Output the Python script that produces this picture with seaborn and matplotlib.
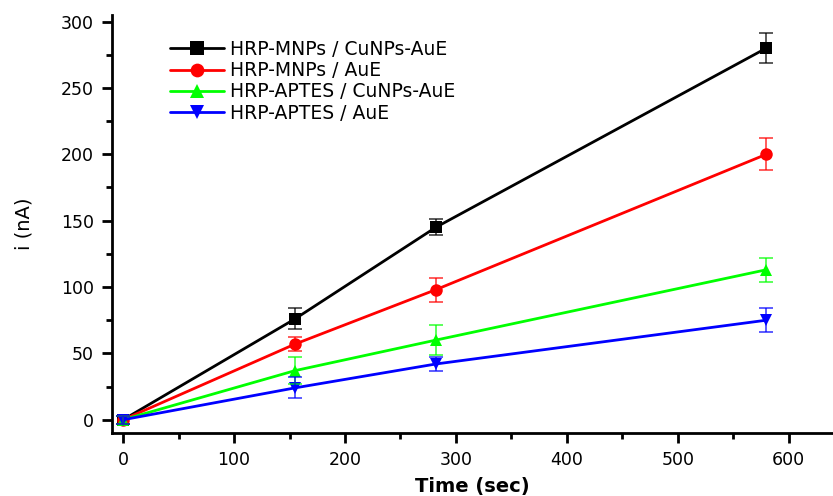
import numpy as np
import pandas as pd
import matplotlib
matplotlib.use("Agg")
import matplotlib.pyplot as plt
from matplotlib.ticker import MultipleLocator
import seaborn as sns

# datos
time_sec = [0, 155, 282, 580]
labels = ["HRP-MNPs / CuNPs-AuE", "HRP-MNPs / AuE",
          "HRP-APTES / CuNPs-AuE", "HRP-APTES / AuE"]
i_mnps_cu = [0, 76, 145, 280]
i_mnps_au = [0, 57, 98, 200]
i_aptes_cu = [0, 37, 60, 113]
i_aptes_au = [0, 24, 42, 75]
err_mnps_cu = [3, 8, 6, 11]
err_mnps_au = [3, 5, 9, 12]
err_aptes_cu = [3, 10, 11, 9]
err_aptes_au = [3, 8, 5, 9]

series = [i_mnps_cu, i_mnps_au, i_aptes_cu, i_aptes_au]
errors = [err_mnps_cu, err_mnps_au, err_aptes_cu, err_aptes_au]
colors = ["black", "red", "#00ff00", "blue"]
markers = ["s", "o", "^", "v"]

df = pd.DataFrame({
    "t": time_sec * 4,
    "i": sum(series, []),
    "serie": [l for l in labels for _ in time_sec],
})

sns.set_style("ticks", {"axes.edgecolor": "black", "text.color": "black",
                        "xtick.color": "black", "ytick.color": "black",
                        "axes.labelcolor": "black"})
plt.rcParams["font.family"] = ["DejaVu Sans"]

fig = plt.figure(figsize=(8.33, 4.96), dpi=100)
ax = fig.add_axes([0.1345, 0.127, 0.8655, 0.843])

sns.lineplot(data=df, x="t", y="i", hue="serie", style="serie",
             palette=dict(zip(labels, colors)),
             markers=dict(zip(labels, markers)), dashes=False,
             markersize=9, linewidth=2, markeredgewidth=0, ax=ax)

for y, e, c in zip(series, errors, colors):
    ax.errorbar(time_sec, y, yerr=e, fmt="none", ecolor=c, elinewidth=1.2,
                capsize=5, capthick=1.2, alpha=0.75)

ax.set_xlim(-10, 640)
ax.set_ylim(-10, 305)
ax.xaxis.set_major_locator(MultipleLocator(100))
ax.xaxis.set_minor_locator(MultipleLocator(50))
ax.yaxis.set_major_locator(MultipleLocator(50))
ax.yaxis.set_minor_locator(MultipleLocator(25))
ax.tick_params(which="major", length=7, width=2, labelsize=12.5, direction="out", pad=6)
ax.tick_params(which="minor", length=4, width=2, direction="out")
for s in ["left", "bottom"]:
    ax.spines[s].set_linewidth(2)
for s in ["top", "right"]:
    ax.spines[s].set_visible(False)

ax.set_xlabel("Time (sec)", fontsize=14, fontweight="bold", labelpad=6)
ax.set_ylabel("i (nA)", fontsize=14, labelpad=20)

ax.legend(loc="upper left", bbox_to_anchor=(0.08, 0.94), frameon=False,
          fontsize=13.5, handlelength=2.9, handletextpad=0.3,
          labelspacing=0.12, borderpad=0, borderaxespad=0, markerscale=1.1)

fig.savefig("out.png", dpi=100)
